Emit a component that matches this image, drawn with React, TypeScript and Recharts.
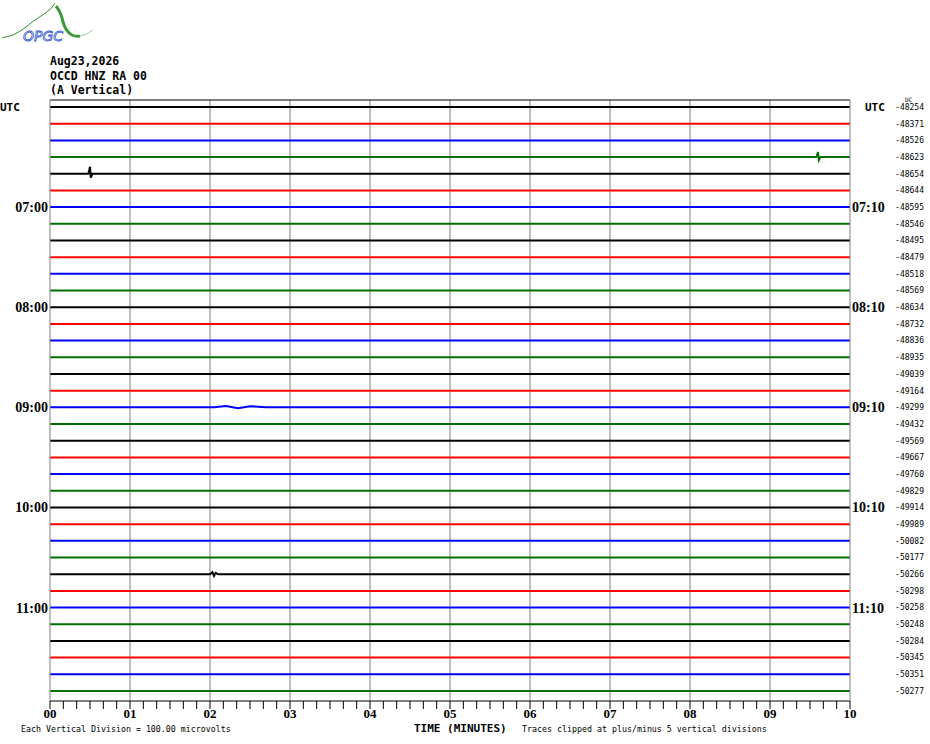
import React from 'react';
import { LineChart, Line, XAxis, YAxis, ReferenceLine } from 'recharts';

// ---- data ----
const minuteLabels = ['00', '01', '02', '03', '04', '05', '06', '07', '08', '09', '10'];
const gridMinutes = [1, 2, 3, 4, 5, 6, 7, 8, 9];
const dcValues = [
  -48254, -48371, -48526, -48623, -48654, -48644, -48595, -48546, -48495, -48479, -48518, -48569,
  -48634, -48732, -48836, -48935, -49039, -49164, -49299, -49432, -49569, -49667, -49760, -49829,
  -49914, -49989, -50082, -50177, -50266, -50298, -50258, -50248, -50284, -50345, -50351, -50277,
];
const traceColors = ['#000000', '#ff0000', '#0000ff', '#007000'];
const labelRows = [0, 6, 12, 18, 24, 30];
const leftTimeLabels = ['UTC', '07:00', '08:00', '09:00', '10:00', '11:00'];
const rightTimeLabels = ['UTC', '07:10', '08:10', '09:10', '10:10', '11:10'];
// notable excursions (row index, times in minutes, amplitude in trace spacings, + = up)
const spikeRows = [4, 3, 28, 18];
const spikeTimes = [
  [0.48, 0.5, 0.51, 0.53],
  [9.58, 9.6, 9.61, 9.63],
  [2.0, 2.03, 2.05, 2.07, 2.1],
  [2.05, 2.2, 2.35, 2.5, 2.7],
];
const spikeAmps = [
  [0, 0.42, -0.24, 0],
  [0, 0.3, -0.18, 0],
  [0, 0.12, -0.1, 0.08, 0],
  [0, 0.08, -0.06, 0.07, 0],
];

const Y_TOP = -0.42;
const Y_BOTTOM = 35.6;
const rowIndices = dcValues.map((_, i) => i);
const subTicks = Array.from({ length: 61 }, (_, k) => k / 6);

const traces = dcValues.map((_, row) => {
  const pts: { t: number; y: number }[] = [
    { t: 0, y: row },
    { t: minuteLabels.length - 1, y: row },
  ];
  spikeRows.forEach((r, s) => {
    if (r === row) {
      spikeTimes[s].forEach((t, j) => pts.push({ t, y: row - spikeAmps[s][j] }));
    }
  });
  pts.sort((a, b) => a.t - b.t);
  return pts;
});

const LeftTick = (props: any) => {
  const { y, payload } = props;
  const idx = labelRows.indexOf(payload.value);
  if (idx < 0) return null;
  if (idx === 0) {
    return (
      <text x={0} y={y} dy="0.36em" fontFamily="DejaVu Sans Mono" fontWeight="bold" fontSize={11} fill="#000">
        {leftTimeLabels[idx]}
      </text>
    );
  }
  return (
    <text x={48} y={y} dy="0.36em" textAnchor="end" fontFamily="Liberation Serif" fontWeight="bold" fontSize={14} fill="#000">
      {leftTimeLabels[idx]}
    </text>
  );
};

const RightTick = (props: any) => {
  const { y, payload } = props;
  const row = payload.value as number;
  const idx = labelRows.indexOf(row);
  return (
    <g>
      {idx === 0 && (
        <text x={865} y={y} dy="0.36em" fontFamily="DejaVu Sans Mono" fontWeight="bold" fontSize={11} fill="#000">
          {rightTimeLabels[idx]}
        </text>
      )}
      {idx > 0 && (
        <text x={852} y={y} dy="0.36em" fontFamily="Liberation Serif" fontWeight="bold" fontSize={14} fill="#000">
          {rightTimeLabels[idx]}
        </text>
      )}
      {row === 0 && (
        <text x={905} y={y - 5} fontFamily="DejaVu Sans Mono" fontSize={6} fill="#000">
          DC
        </text>
      )}
      <text x={924} y={y} dy="0.36em" textAnchor="end" fontFamily="DejaVu Sans Mono" fontSize={8} fill="#000">
        {dcValues[row]}
      </text>
    </g>
  );
};

const fmtMinute = (v: number) =>
  Math.abs(v - Math.round(v)) < 1e-6 ? minuteLabels[Math.round(v)] : '';

export default function App() {
  return (
    <div style={{ position: 'absolute', left: 0, top: 0, width: 930, height: 744, background: '#fff' }}>
      <LineChart width={930} height={744} margin={{ top: 100, right: 0, bottom: 13, left: 0 }}>
        <XAxis
          type="number"
          dataKey="t"
          domain={[0, 10]}
          ticks={subTicks}
          interval={0}
          tickFormatter={fmtMinute}
          tickSize={8}
          tickMargin={0}
          tickLine={{ stroke: '#000' }}
          axisLine={{ stroke: '#000' }}
          tick={{ fill: '#000', fontFamily: 'Liberation Serif', fontWeight: 'bold', fontSize: 13 }}
          height={30}
          allowDataOverflow
        />
        <YAxis
          yAxisId="left"
          type="number"
          domain={[Y_TOP, Y_BOTTOM]}
          reversed
          allowDataOverflow
          width={50}
          ticks={labelRows}
          interval={0}
          tick={<LeftTick />}
          tickLine={false}
          axisLine={{ stroke: '#808080' }}
        />
        <YAxis
          yAxisId="right"
          orientation="right"
          type="number"
          domain={[Y_TOP, Y_BOTTOM]}
          reversed
          allowDataOverflow
          width={80}
          ticks={rowIndices}
          interval={0}
          tick={<RightTick />}
          tickLine={false}
          axisLine={{ stroke: '#808080' }}
        />
        {gridMinutes.map((m) => (
          <ReferenceLine key={'g' + m} yAxisId="left" x={m} stroke="#808080" strokeWidth={1} />
        ))}
        <ReferenceLine yAxisId="left" y={Y_TOP} stroke="#000" strokeWidth={1} />
        {traces.map((pts, i) => (
          <Line
            key={'tr' + i}
            yAxisId="left"
            data={pts}
            dataKey="y"
            type="linear"
            stroke={traceColors[i % traceColors.length]}
            strokeWidth={2}
            dot={false}
            activeDot={false}
            isAnimationActive={false}
          />
        ))}
      </LineChart>
      <svg
        width={930}
        height={744}
        style={{ position: 'absolute', left: 0, top: 0, pointerEvents: 'none' }}
      >
        <path d="M2 38 Q 14 36 22 30 Q 34 20 44 14 Q 52 9 55 3" stroke="#2f8f2f" strokeWidth={1} fill="none" />
        <path d="M56 6 Q 61 12 63 22 Q 66 32 72 35 Q 76 37 80 36" stroke="#3a9a3a" strokeWidth={3} fill="none" />
        <path d="M80 36 Q 87 35 93 30" stroke="#9fcf9f" strokeWidth={1} fill="none" />
        <text x={23} y={41} fontFamily="DejaVu Sans" fontStyle="italic" fontSize={14} fill="none" stroke="#2f55d0" strokeWidth={0.8}>
          OPGC
        </text>
        <text x={50} y={65} fontFamily="DejaVu Sans Mono" fontWeight="bold" fontSize={11.5} fill="#000">
          Aug23,2026
        </text>
        <text x={50} y={80} fontFamily="DejaVu Sans Mono" fontWeight="bold" fontSize={11.5} fill="#000">
          OCCD HNZ RA 00
        </text>
        <text x={50} y={94} fontFamily="DejaVu Sans Mono" fontWeight="bold" fontSize={11.5} fill="#000">
          (A Vertical)
        </text>
        <text x={21} y={732} fontFamily="DejaVu Sans Mono" fontSize={8.3} fill="#000">
          Each Vertical Division =  100.00 microvolts
        </text>
        <text x={414} y={732} fontFamily="DejaVu Sans Mono" fontWeight="bold" fontSize={11} fill="#000">
          TIME (MINUTES)
        </text>
        <text x={522} y={732} fontFamily="DejaVu Sans Mono" fontSize={8.3} fill="#000">
          Traces clipped at plus/minus 5 vertical divisions
        </text>
      </svg>
    </div>
  );
}
